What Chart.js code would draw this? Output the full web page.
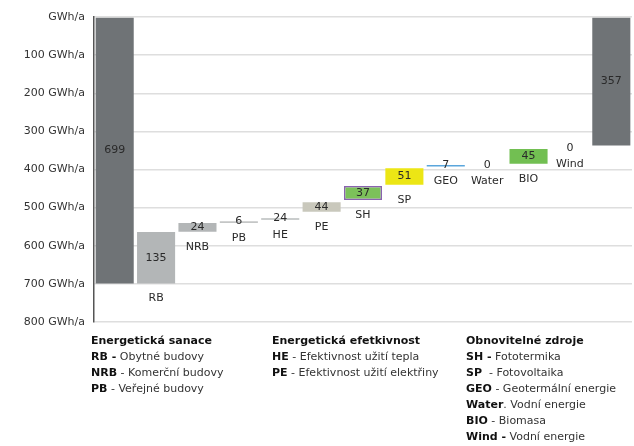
<!DOCTYPE html>
<html>
<head>
<meta charset="utf-8">
<script src="https://cdn.jsdelivr.net/npm/chart.js@4/dist/chart.umd.min.js"></script>
<style>
  html, body { margin: 0; padding: 0; background: #fff; }
  #wrap { position: relative; width: 634px; height: 446px; overflow: hidden; }
  #c { position: absolute; left: 0; top: 0; }
  .col { position: absolute; top: 333px; font-family: "DejaVu Sans", sans-serif; font-size: 11px; line-height: 16px; color: #333; white-space: nowrap; }
  .col b { color: #111; }
</style>
</head>
<body>
<div id="wrap">
  <canvas id="c" width="634" height="446"></canvas>
  <div class="col" style="left:91px">
    <div><b>Energetická sanace</b></div>
    <div><b>RB -</b> Obytné budovy</div>
    <div><b>NRB</b> - Komerční budovy</div>
    <div><b>PB</b> - Veřejné budovy</div>
  </div>
  <div class="col" style="left:272px">
    <div><b>Energetická efetkivnost</b></div>
    <div><b>HE</b> - Efektivnost užití tepla</div>
    <div><b>PE</b> - Efektivnost užití elektřiny</div>
  </div>
  <div class="col" style="left:466px">
    <div><b>Obnovitelné zdroje</b></div>
    <div><b>SH -</b> Fototermika</div>
    <div><b>SP</b> &nbsp;- Fotovoltaika</div>
    <div><b>GEO</b> - Geotermální energie</div>
    <div><b>Water</b>. Vodní energie</div>
    <div><b>BIO</b> - Biomasa</div>
    <div><b>Wind -</b> Vodní energie</div>
  </div>
</div>
<script>
// Categories (first and last are the totals, unlabeled)
const categories = ['', 'RB', 'NRB', 'PB', 'HE', 'PE', 'SH', 'SP', 'GEO', 'Water', 'BIO', 'Wind', ''];
// Printed values
const valueLabels = [699, 135, 24, 6, 24, 44, 37, 51, 7, 0, 45, 0, 357];
// Floating bar ranges as drawn (GWh/a, axis reversed: 0 at top)
const barStart = [0, 564, 540, 536, 528, 486, 443, 397, 388, 390, 346, 346, 0];
const barEnd   = [699, 699, 563, 540, 532, 511, 480, 440, 392, 390, 385, 346, 337];
// Y axis ticks
const yTicks = [0, 100, 200, 300, 400, 500, 600, 700, 800];
const yUnit = 'GWh/a';

const barColors = ['#6f7376', '#b3b6b7', '#b3b6b7', '#c4c6c6', '#b9bcbc', '#c9c8bc', '#7cc15a', '#ece615', '#5aa6dc', 'rgba(0,0,0,0)', '#72bf52', 'rgba(0,0,0,0)', '#6f7376'];
const borderColors = barColors.map((c, i) => i === 6 ? '#8a62b0' : c);
const borderWidths = barColors.map((c, i) => i === 6 ? 1.5 : 0);

const labelPlugin = {
  id: 'wfLabels',
  afterDatasetsDraw(chart) {
    const ctx = chart.ctx;
    const x = chart.scales.x, y = chart.scales.y;
    ctx.save();
    ctx.font = '11px "DejaVu Sans", sans-serif';
    ctx.fillStyle = '#2a2a2a';
    ctx.textAlign = 'center';
    ctx.textBaseline = 'middle';
    categories.forEach((cat, i) => {
      const cx = x.getPixelForValue(i);
      const y1 = y.getPixelForValue(barStart[i]);
      const y2 = y.getPixelForValue(barEnd[i]);
      const mid = (y1 + y2) / 2;
      ctx.fillText(String(valueLabels[i]), cx, mid - (barEnd[i] - barStart[i] < 8 ? 1 : 0));
      if (cat) {
        ctx.fillText(cat, cx, Math.max(y1, y2) + 15);
      }
    });
    ctx.restore();
  }
};

new Chart(document.getElementById('c'), {
  type: 'bar',
  data: {
    labels: categories,
    datasets: [{
      data: barStart.map((s, i) => [s, barEnd[i]]),
      backgroundColor: barColors,
      borderColor: borderColors,
      borderWidth: borderWidths,
      borderSkipped: false,
      barPercentage: 0.92,
      categoryPercentage: 1.0
    }]
  },
  options: {
    responsive: false,
    animation: false,
    devicePixelRatio: 1,
    layout: { padding: { top: 17, bottom: 124, left: 0, right: 2 } },
    plugins: { legend: { display: false }, tooltip: { enabled: false } },
    scales: {
      x: { display: false, offset: true },
      y: {
        reverse: true,
        min: 0,
        max: 800,
        afterBuildTicks(axis) { axis.ticks = yTicks.map(v => ({ value: v })); },
        afterFit(axis) { axis.width = 94; },
        ticks: {
          padding: 9,
          color: '#333',
          font: { family: '"DejaVu Sans", sans-serif', size: 11 },
          callback: v => v === 0 ? yUnit : v + ' ' + yUnit
        },
        grid: { color: '#dedede', lineWidth: 1.5, drawTicks: false },
        border: { display: true, color: '#555', width: 1.5 }
      }
    }
  },
  plugins: [labelPlugin]
});
</script>
</body>
</html>
